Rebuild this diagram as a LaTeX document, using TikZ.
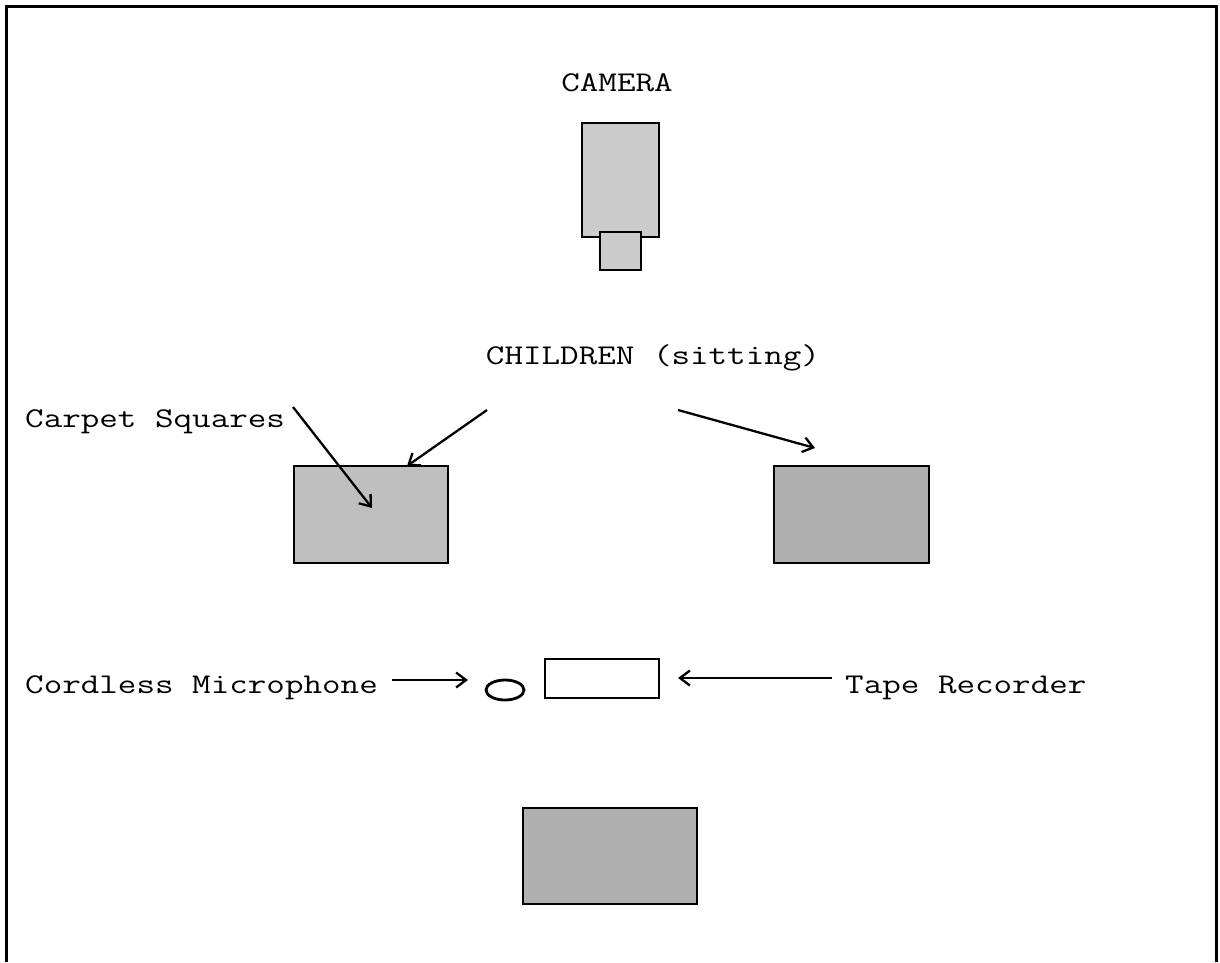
\documentclass[tikz,border=0pt]{standalone}
\usepackage{fontspec}
\newfontfamily\courier[FakeStretch=1.26]{Latin Modern Mono}
\usetikzlibrary{arrows.meta,shapes.geometric}
\tikzset{
  label text/.style={inner sep=0pt, font=\courier\fontsize{28.6}{34}\selectfont},
  rug/.style={draw, line width=2.8pt, inner sep=0pt},
  pointer/.style={line width=2.3pt, -{Straight Barb[length=10pt,width=15pt,line width=2.3pt]}}
}
\begin{document}
\begin{tikzpicture}[x=1pt,y=-1pt]
  \useasboundingbox (0,0) rectangle (1220,962);
  \draw[line width=3pt] (6,962) -- (6,6) -- (1216,6) -- (1216,962);

  % camera
  \node[rug, fill=black!20, minimum width=77pt, minimum height=114pt] (body) at (620.5,180) {};
  \node[rug, fill=black!20, minimum width=41pt, minimum height=38pt] (lens) at (620.5,251) {};
  \node[label text, anchor=base] (camera) at (617,91) {CAMERA};

  % carpet squares
  \node[rug, fill=black!25, minimum width=154pt, minimum height=97pt] (left) at (371,514.5) {};
  \node[rug, fill=black!31, minimum width=155pt, minimum height=97pt] (right) at (851.5,514.5) {};
  \node[rug, fill=black!31, minimum width=174pt, minimum height=96pt] (back) at (610,856) {};

  % tape recorder and microphone
  \node[rug, fill=white, minimum width=114pt, minimum height=39pt] (tape) at (602,678.5) {};
  \node[draw, line width=2.8pt, ellipse, minimum width=38pt, minimum height=20pt, inner sep=0pt] (mic) at (505,690) {};

  % labels
  \node[label text, anchor=base] (children) at (653,364) {CHILDREN (sitting)};
  \node[label text, anchor=base west] (carpet) at (25,427) {Carpet Squares};
  \node[label text, anchor=base west] (cordless) at (25,693) {Cordless Microphone};
  \node[label text, anchor=base west] (recorder) at (845,693) {Tape Recorder};

  \coordinate (c1) at (293,407);
  \coordinate (c2) at (372,508);
  \coordinate (k1) at (487,410);
  \coordinate (k2) at (407,466);
  \coordinate (k3) at (678,410);
  \coordinate (k4) at (815,448);
  \coordinate (m1) at (392,680);
  \coordinate (m2) at (468,680);
  \coordinate (t1) at (832,678);
  \coordinate (t2) at (678,678);

  \draw[pointer] (c1) -- (c2);
  \draw[pointer] (k1) -- (k2);
  \draw[pointer] (k3) -- (k4);
  \draw[pointer] (m1) -- (m2);
  \draw[pointer] (t1) -- (t2);
\end{tikzpicture}
\end{document}
